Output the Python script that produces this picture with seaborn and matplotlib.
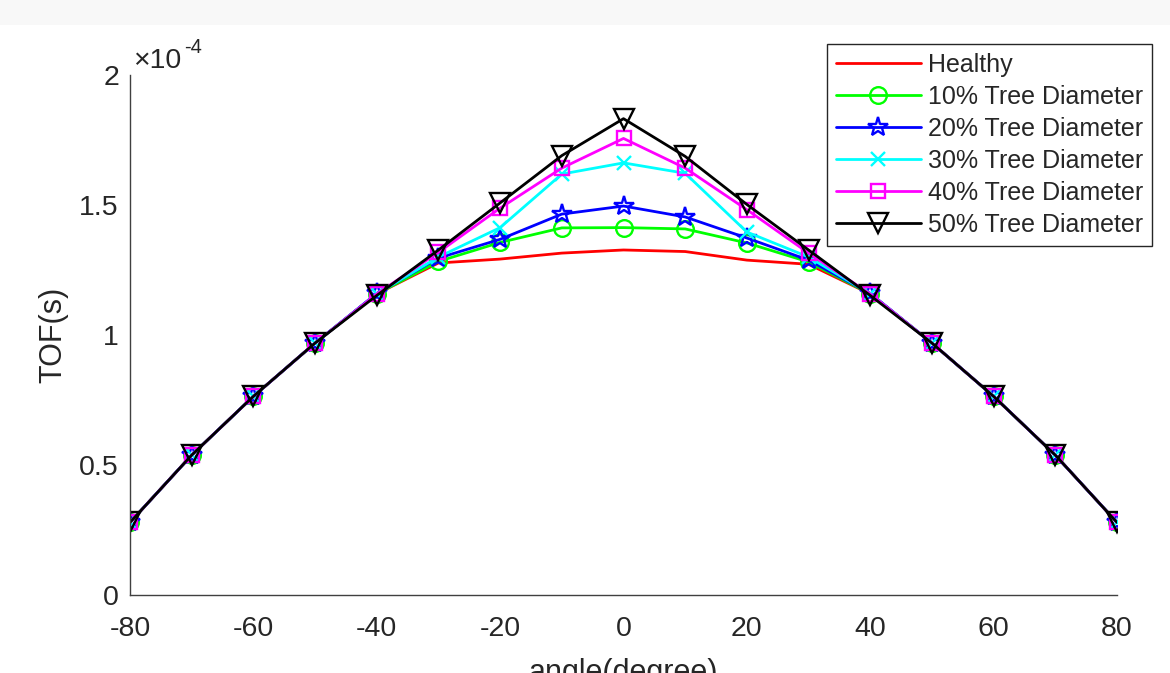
import matplotlib
matplotlib.use("Agg")
import matplotlib.pyplot as plt
import seaborn as sns
from matplotlib.patches import Rectangle

# ---- data (TOF in units of 1e-4 s) ----
angles = [-80, -70, -60, -50, -40, -30, -20, -10, 0, 10, 20, 30, 40, 50, 60, 70, 80]
healthy = [0.279, 0.538, 0.764, 0.969, 1.158, 1.277, 1.292, 1.315, 1.327, 1.321, 1.288, 1.272, 1.158, 0.969, 0.764, 0.538, 0.279]
tree10 = [0.279, 0.538, 0.764, 0.969, 1.158, 1.283, 1.356, 1.412, 1.413, 1.408, 1.354, 1.281, 1.158, 0.969, 0.764, 0.538, 0.279]
tree20 = [0.279, 0.538, 0.764, 0.969, 1.160, 1.296, 1.368, 1.465, 1.496, 1.454, 1.373, 1.288, 1.160, 0.969, 0.764, 0.538, 0.279]
tree30 = [0.279, 0.538, 0.764, 0.969, 1.158, 1.300, 1.413, 1.619, 1.662, 1.622, 1.396, 1.300, 1.158, 0.969, 0.764, 0.538, 0.279]
tree40 = [0.279, 0.538, 0.764, 0.969, 1.158, 1.318, 1.488, 1.642, 1.756, 1.642, 1.482, 1.315, 1.158, 0.969, 0.764, 0.538, 0.279]
tree50 = [0.279, 0.538, 0.764, 0.969, 1.152, 1.327, 1.508, 1.690, 1.832, 1.687, 1.502, 1.327, 1.152, 0.969, 0.764, 0.538, 0.279]

series_names = ["Healthy", "10% Tree Diameter", "20% Tree Diameter",
                "30% Tree Diameter", "40% Tree Diameter", "50% Tree Diameter"]
series_values = [healthy, tree10, tree20, tree30, tree40, tree50]
xticks = [-80, -60, -40, -20, 0, 20, 40, 60, 80]
yticks = [0, 0.5, 1, 1.5, 2]
ytick_labels = ["0", "0.5", "1", "1.5", "2"]

# ---- styles ----
colors = ["#ff0000", "#00ff00", "#0000ff", "#00ffff", "#ff00ff", "#000000"]
markers = [None, "o", "*", "x", "s", "v"]
msizes = [0, 12, 15, 10, 9.5, 14]

sns.set_theme(style="white")
plt.rcParams["font.family"] = ["Liberation Sans", "DejaVu Sans"]
plt.rcParams["axes.unicode_minus"] = False

W, H = 1170, 673
fig = plt.figure(figsize=(W / 100, H / 100), dpi=100)
fig.patches.append(Rectangle((0, 1 - 25 / H), 1, 25 / H, transform=fig.transFigure,
                             facecolor="#f8f8f8", edgecolor="none", zorder=-1))
ax = fig.add_axes([130 / W, 1 - 595 / H, (1117 - 130) / W, (595 - 75) / H])

for name, vals, c, m, ms in zip(series_names, series_values, colors, markers, msizes):
    kw = dict(color=c, linewidth=2.0, label=name, ax=ax)
    if m is not None:
        kw.update(marker=m, markersize=ms, markerfacecolor="none",
                  markeredgecolor=c, markeredgewidth=1.7)
    sns.lineplot(x=angles, y=vals, **kw)

ax.set_xlim(-80, 80)
ax.set_ylim(0, 2)
ax.set_xticks(xticks)
ax.set_xticklabels([str(t) for t in xticks])
ax.set_yticks(yticks)
ax.set_yticklabels(ytick_labels)

for s in ["top", "right"]:
    ax.spines[s].set_visible(False)
for s in ["left", "bottom"]:
    ax.spines[s].set_color("#404040")
    ax.spines[s].set_linewidth(1.0)

ax.tick_params(axis="both", direction="in", length=7, width=0.9, color="#404040",
               labelsize=20.5, labelcolor="#262626")
ax.tick_params(axis="x", pad=15)
ax.tick_params(axis="y", pad=8)

ax.set_ylabel("TOF(s)", fontsize=22, color="#262626", labelpad=8)
ax.set_xlabel("angle(degree)", fontsize=22, color="#262626", labelpad=12)

fig.text(133 / W, 1 - 68 / H, "\u00d710", fontsize=20.5, color="#262626",
         ha="left", va="baseline")
fig.text(184 / W, 1 - 53 / H, "-4", fontsize=14.5, color="#262626",
         ha="left", va="baseline")

leg = ax.legend(loc="upper right", bbox_to_anchor=(1152 / W, 1 - 44 / H),
                bbox_transform=fig.transFigure, borderaxespad=0, fontsize=18,
                frameon=True, fancybox=False, framealpha=1, edgecolor="#262626",
                handlelength=3.4, handletextpad=0.3, labelspacing=0.32, borderpad=0.35)
leg.get_frame().set_linewidth(1.0)

fig.savefig("out.png", dpi=100)
